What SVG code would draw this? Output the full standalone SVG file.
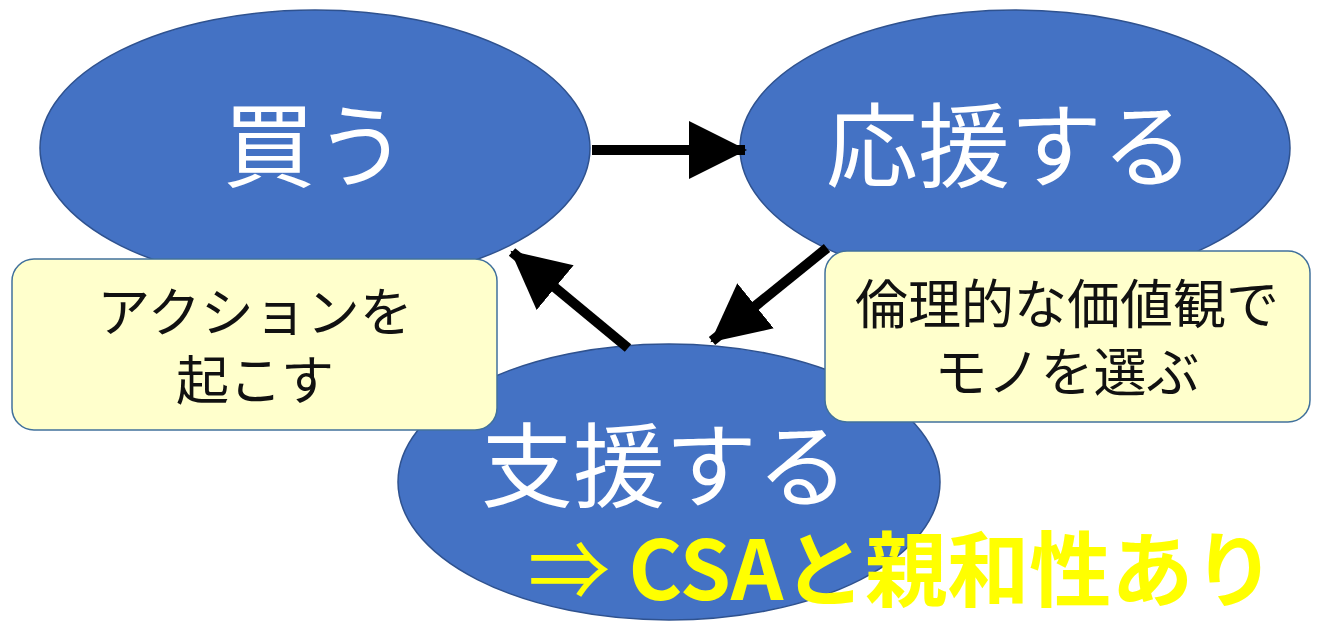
<svg xmlns="http://www.w3.org/2000/svg" width="1317" height="622" viewBox="0 0 1317 622">
<style>
.node{fill:#4472C4;stroke:#2F528F;stroke-width:1.5}
.ntext{font-family:"Noto Sans CJK JP","Noto Sans",sans-serif;font-size:92px;fill:#FFFFFF;text-anchor:middle}
.box{fill:#FFFFCC;stroke:#41719C;stroke-width:1.5}
.btext{font-family:"Noto Sans CJK JP","Noto Sans",sans-serif;font-size:53px;fill:#111111;text-anchor:middle}
.conn{stroke:#000;stroke-width:10;fill:none}
.note{font-family:"Noto Sans CJK JP","Liberation Sans",sans-serif;font-weight:bold;font-size:82px;fill:#FFFF00}
</style>
<defs>
<marker id="ah" markerUnits="userSpaceOnUse" markerWidth="64" markerHeight="64" refX="56" refY="29" orient="auto">
<path d="M0,0 L58,29 L0,58 Z" fill="#000"/>
</marker>
</defs>
<rect width="1317" height="622" fill="#FFFFFF"/>
<g id="node-kau">
<ellipse class="node" cx="315" cy="148" rx="275" ry="138"/>
<text class="ntext" x="315" y="180">買う</text>
</g>
<g id="node-ouen">
<ellipse class="node" cx="1015" cy="148" rx="275" ry="138"/>
<text class="ntext" x="1010" y="180">応援する</text>
</g>
<g id="node-shien">
<ellipse class="node" cx="669" cy="482" rx="271" ry="138"/>
<text class="ntext" x="665" y="500">支援する</text>
</g>
<g id="connectors">
<line class="conn" x1="592" y1="150" x2="745" y2="150" marker-end="url(#ah)"/>
<line class="conn" x1="827" y1="248" x2="712" y2="341" marker-end="url(#ah)"/>
<line class="conn" x1="628" y1="348" x2="512" y2="252" marker-end="url(#ah)"/>
</g>
<g id="label-action">
<rect class="box" x="12" y="259" width="485" height="171" rx="22"/>
<text class="btext" x="255" y="332">アクションを</text>
<text class="btext" x="255" y="400">起こす</text>
</g>
<g id="label-ethical">
<rect class="box" x="825" y="251" width="485" height="171" rx="22"/>
<text class="btext" x="1067" y="324">倫理的な価値観で</text>
<text class="btext" x="1067" y="392">モノを選ぶ</text>
</g>
<g id="note-csa">
<text class="note" x="528" y="600"><tspan font-weight="normal">⇒ </tspan>CSAと親和性あり</text>
</g>
</svg>
